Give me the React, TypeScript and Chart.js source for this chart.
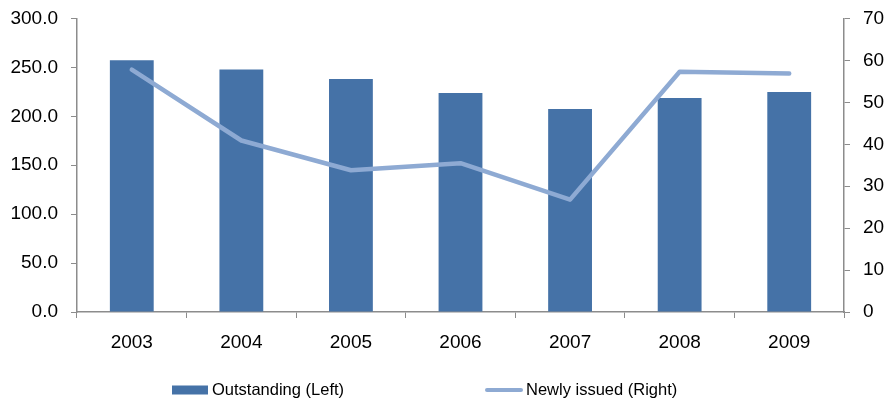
import React, { useEffect, useRef } from "react";
import { Chart, registerables } from "chart.js";

Chart.register(...registerables);

const years = ["2003", "2004", "2005", "2006", "2007", "2008", "2009"];
const outstanding = [257.3, 247.8, 238.2, 223.9, 207.5, 218.8, 224.9];
const newlyIssued = [57.8, 40.9, 33.8, 35.5, 26.8, 57.3, 56.9];
const leftTicks = [0, 50, 100, 150, 200, 250, 300];
const rightTicks = [0, 10, 20, 30, 40, 50, 60, 70];
const seriesNames = ["Outstanding (Left)", "Newly issued (Right)"];

const BAR_COLOR = "#4572A7";
const LINE_COLOR = "#8EAAD3";
const AXIS_COLOR = "#8C8C8C";
const FONT = "'Liberation Sans', Arial, sans-serif";

// Legend drawn under the axis: a filled box for the bars, a stroke for the line.
const bottomLegend = {
  id: "bottomLegend",
  afterDraw(chart: any) {
    const ctx = chart.ctx;
    const y = 390;
    ctx.save();
    ctx.font = `16.5px ${FONT}`;
    ctx.textBaseline = "middle";
    ctx.textAlign = "left";

    ctx.fillStyle = BAR_COLOR;
    ctx.fillRect(172, y - 4.5, 36, 9);
    ctx.fillStyle = "#000";
    ctx.fillText(seriesNames[0], 212, y);

    ctx.strokeStyle = LINE_COLOR;
    ctx.lineWidth = 4;
    ctx.lineCap = "round";
    ctx.beginPath();
    ctx.moveTo(487, y);
    ctx.lineTo(521, y);
    ctx.stroke();
    ctx.fillText(seriesNames[1], 526, y);
    ctx.restore();
  },
};

export default function App() {
  const canvasRef = useRef<HTMLCanvasElement>(null);

  useEffect(() => {
    if (!canvasRef.current) return;
    const chart = new Chart(canvasRef.current, {
      type: "bar",
      data: {
        labels: years,
        datasets: [
          {
            type: "line",
            label: seriesNames[1],
            data: newlyIssued,
            yAxisID: "yRight",
            borderColor: LINE_COLOR,
            backgroundColor: LINE_COLOR,
            borderWidth: 4.5,
            borderCapStyle: "round",
            borderJoinStyle: "round",
            pointRadius: 0,
            tension: 0,
            order: 0,
          },
          {
            type: "bar",
            label: seriesNames[0],
            data: outstanding,
            yAxisID: "yLeft",
            backgroundColor: BAR_COLOR,
            categoryPercentage: 1,
            barPercentage: 0.4,
            order: 1,
          },
        ],
      },
      options: {
        responsive: false,
        animation: false,
        layout: { padding: { top: 18.5, left: 0, right: 0, bottom: 0 } },
        plugins: {
          legend: { display: false },
          tooltip: { enabled: false },
        },
        scales: {
          x: {
            grid: {
              display: true,
              offset: true,
              drawOnChartArea: false,
              drawTicks: true,
              tickLength: 6,
              color: AXIS_COLOR,
            },
            border: { display: true, color: AXIS_COLOR, width: 1.5 },
            ticks: {
              color: "#000",
              font: { family: FONT, size: 19 },
              padding: 13,
              maxRotation: 0,
            },
            afterFit(scale: any) {
              scale.height = 89;
              scale.paddingLeft = 0;
              scale.paddingRight = 0;
            },
          },
          yLeft: {
            position: "left",
            min: 0,
            max: 300,
            afterBuildTicks(scale: any) {
              scale.ticks = leftTicks.map((v) => ({ value: v }));
            },
            grid: {
              display: true,
              drawOnChartArea: false,
              drawTicks: true,
              tickLength: 6,
              color: AXIS_COLOR,
            },
            border: { display: true, color: AXIS_COLOR, width: 1.5 },
            ticks: {
              color: "#000",
              font: { family: FONT, size: 19 },
              padding: 13,
              callback: (v: any) => Number(v).toFixed(1),
            },
            afterFit(scale: any) {
              scale.width = 77;
              scale.paddingTop = 0;
              scale.paddingBottom = 0;
            },
          },
          yRight: {
            position: "right",
            min: 0,
            max: 70,
            afterBuildTicks(scale: any) {
              scale.ticks = rightTicks.map((v) => ({ value: v }));
            },
            grid: {
              display: true,
              drawOnChartArea: false,
              drawTicks: true,
              tickLength: 6,
              color: AXIS_COLOR,
            },
            border: { display: true, color: AXIS_COLOR, width: 1.5 },
            ticks: {
              color: "#000",
              font: { family: FONT, size: 19 },
              padding: 13,
              callback: (v: any) => String(v),
            },
            afterFit(scale: any) {
              scale.width = 42;
              scale.paddingTop = 0;
              scale.paddingBottom = 0;
            },
          },
        },
      },
      plugins: [bottomLegend],
    });
    return () => chart.destroy();
  }, []);

  return (
    <div style={{ position: "fixed", left: 0, top: 0, width: 886, height: 401, background: "#fff" }}>
      <canvas ref={canvasRef} width={886} height={401} style={{ display: "block" }} />
    </div>
  );
}
